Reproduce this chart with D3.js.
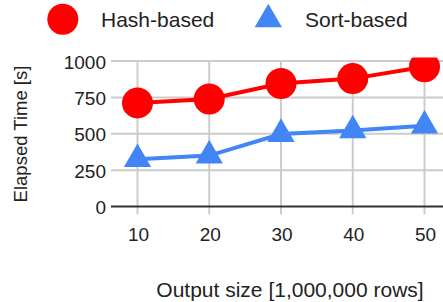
<!DOCTYPE html>
<html>
<head>
  <style>
    body {
      margin: 0;
      background: #fff;
      font-family: 'Liberation Sans', Arial, sans-serif;
    }
    text {
      fill: #222;
    }
    .grid line {
      stroke: #ccc;
      stroke-width: 2px;
    }
    .zero-line {
      stroke: #333;
      stroke-width: 2px;
    }
  </style>
  <script src="https://d3js.org/d3.v7.min.js"></script>
</head>
<body>
<div class="chart"></div>
<script>
const outputSizes = [10, 20, 30, 40, 50];
const hashBased = [712, 739, 845, 879, 960];
const sortBased = [325, 350, 498, 523, 555];
const yTicks = [0, 250, 500, 750, 1000];
const seriesNames = ['Hash-based', 'Sort-based'];

const width = 443;
const height = 302;
const hashColour = '#ff0000';
const sortColour = '#4285f4';

const svg = d3.select('.chart')
  .append('svg')
  .attr('width', width)
  .attr('height', height);

const x = d3.scaleLinear()
  .domain([10, 50])
  .range([137.5, 424.5]);

const y = d3.scaleLinear()
  .domain([0, 1000])
  .range([206.5, 61]);

svg.append('defs')
  .append('clipPath')
    .attr('id', 'plot-clip')
  .append('rect')
    .attr('x', 0)
    .attr('y', 57.5)
    .attr('width', width)
    .attr('height', height);

// gridlines
svg.append('g')
  .attr('class', 'grid')
  .call(g => {
    g.selectAll('line.h')
      .data(yTicks.filter(d => d > 0))
      .join('line')
      .attr('class', 'h')
      .attr('x1', 111)
      .attr('x2', width)
      .attr('y1', d => y(d))
      .attr('y2', d => y(d));

    g.selectAll('line.v')
      .data(outputSizes)
      .join('line')
      .attr('class', 'v')
      .attr('x1', d => x(d))
      .attr('x2', d => x(d))
      .attr('y1', y(1000) - 1)
      .attr('y2', y(0) + 8);
  });

svg.append('line')
  .attr('class', 'zero-line')
  .attr('x1', 111)
  .attr('x2', width)
  .attr('y1', y(0))
  .attr('y2', y(0));

// tick labels
svg.append('g')
  .selectAll('text')
  .data(yTicks)
  .join('text')
  .attr('x', 106)
  .attr('y', d => y(d))
  .attr('dy', '0.4em')
  .attr('text-anchor', 'end')
  .style('font-size', '19px')
  .text(d => d);

svg.append('g')
  .selectAll('text')
  .data(outputSizes)
  .join('text')
  .attr('x', d => x(d) + 1)
  .attr('y', 240.5)
  .attr('text-anchor', 'middle')
  .style('font-size', '19px')
  .text(d => d);

// axis titles
svg.append('text')
  .attr('transform', 'translate(27,134) rotate(-90)')
  .attr('text-anchor', 'middle')
  .style('font-size', '18.5px')
  .text('Elapsed Time [s]');

svg.append('text')
  .attr('x', 290)
  .attr('y', 297)
  .attr('text-anchor', 'middle')
  .style('font-size', '21px')
  .text('Output size [1,000,000 rows]');

// series
const line = d3.line()
  .x(d => x(d[0]))
  .y(d => y(d[1]));

const triangle = d3.symbol().type(d3.symbolTriangle).size(322);

const plot = svg.append('g').attr('clip-path', 'url(#plot-clip)');

const hashPoints = d3.zip(outputSizes, hashBased);
const sortPoints = d3.zip(outputSizes, sortBased);

plot.append('path')
  .attr('d', line(sortPoints))
  .attr('fill', 'none')
  .attr('stroke', sortColour)
  .attr('stroke-width', 4);

plot.selectAll('path.tri')
  .data(sortPoints)
  .join('path')
  .attr('class', 'tri')
  .attr('transform', d => `translate(${x(d[0])},${y(d[1])})`)
  .attr('d', triangle)
  .attr('fill', sortColour);

plot.append('path')
  .attr('d', line(hashPoints))
  .attr('fill', 'none')
  .attr('stroke', hashColour)
  .attr('stroke-width', 4);

plot.selectAll('circle')
  .data(hashPoints)
  .join('circle')
  .attr('cx', d => x(d[0]))
  .attr('cy', d => y(d[1]))
  .attr('r', 15.5)
  .attr('fill', hashColour);

// legend
const legend = svg.append('g').attr('class', 'legend');

legend.append('circle')
  .attr('cx', 62.8)
  .attr('cy', 19.3)
  .attr('r', 15.5)
  .attr('fill', hashColour);

legend.append('text')
  .attr('x', 101)
  .attr('y', 27.3)
  .style('font-size', '21px')
  .text(seriesNames[0]);

legend.append('path')
  .attr('transform', 'translate(268.3,19.5)')
  .attr('d', triangle())
  .attr('fill', sortColour);

legend.append('text')
  .attr('x', 305)
  .attr('y', 27.3)
  .style('font-size', '21px')
  .text(seriesNames[1]);
</script>
</body>
</html>
